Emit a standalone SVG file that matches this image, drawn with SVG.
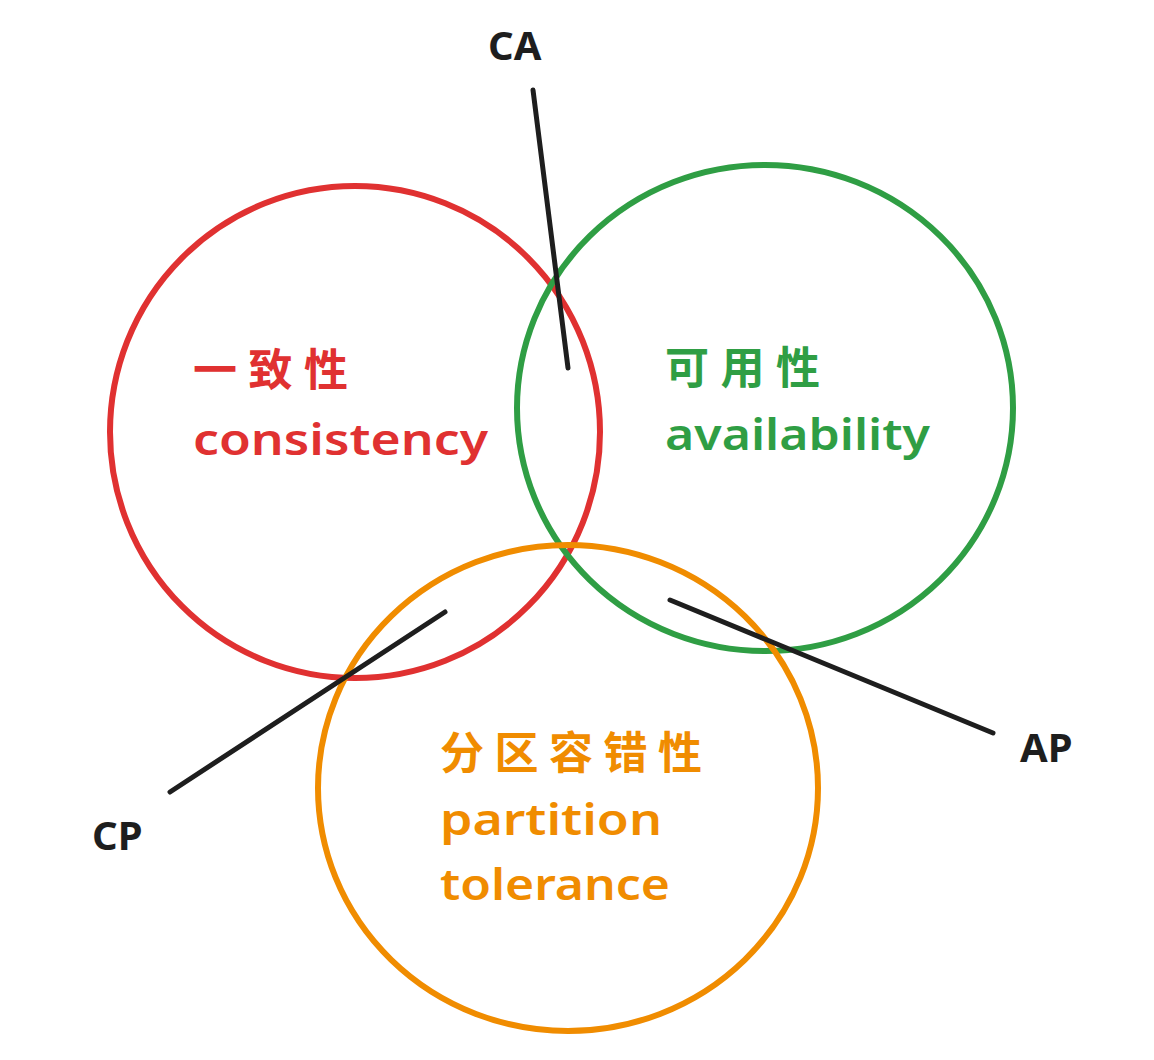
<svg xmlns="http://www.w3.org/2000/svg" width="1154" height="1060" viewBox="0 0 1154 1060">
<style>
.c{fill:none;stroke-width:6;stroke-linecap:round}
.l{stroke:#1e1e1e;stroke-width:5;stroke-linecap:round}
.t{font-family:"Noto Sans","Noto Sans CJK SC",sans-serif;font-size:44px;font-weight:600}
.k{font-family:"Noto Sans",sans-serif;font-size:40px;fill:#1e1e1e;font-weight:bold}
</style>
<rect width="1154" height="1060" fill="#fff"/>
<g id="consistency">
<ellipse class="c" cx="355" cy="432" rx="245" ry="246" stroke="#e03131"/>
<text class="t" fill="#e03131" x="193" y="386" textLength="155">一致性</text>
<text class="t" fill="#e03131" x="193" y="455" textLength="295" lengthAdjust="spacingAndGlyphs">consistency</text>
</g>
<g id="availability">
<ellipse class="c" cx="765" cy="408" rx="248" ry="243" stroke="#2f9e44"/>
<text class="t" fill="#2f9e44" x="665" y="384" textLength="155">可用性</text>
<text class="t" fill="#2f9e44" x="665" y="450" textLength="265" lengthAdjust="spacingAndGlyphs">availability</text>
</g>
<g id="partition">
<ellipse class="c" cx="568" cy="788" rx="250" ry="243" stroke="#f08c00"/>
<text class="t" fill="#f08c00" x="440" y="769" textLength="262">分区容错性</text>
<text class="t" fill="#f08c00" x="440" y="835" textLength="222" lengthAdjust="spacingAndGlyphs">partition</text>
<text class="t" fill="#f08c00" x="440" y="900" textLength="230" lengthAdjust="spacingAndGlyphs">tolerance</text>
</g>
<g id="connectors">
<line class="l" x1="533" y1="90" x2="568" y2="368"/>
<line class="l" x1="170" y1="792" x2="445" y2="612"/>
<line class="l" x1="670" y1="600" x2="993" y2="733"/>
</g>
<g id="labels">
<text class="k" x="488" y="60">CA</text>
<text class="k" x="92" y="850">CP</text>
<text class="k" x="1020" y="762">AP</text>
</g>
</svg>
